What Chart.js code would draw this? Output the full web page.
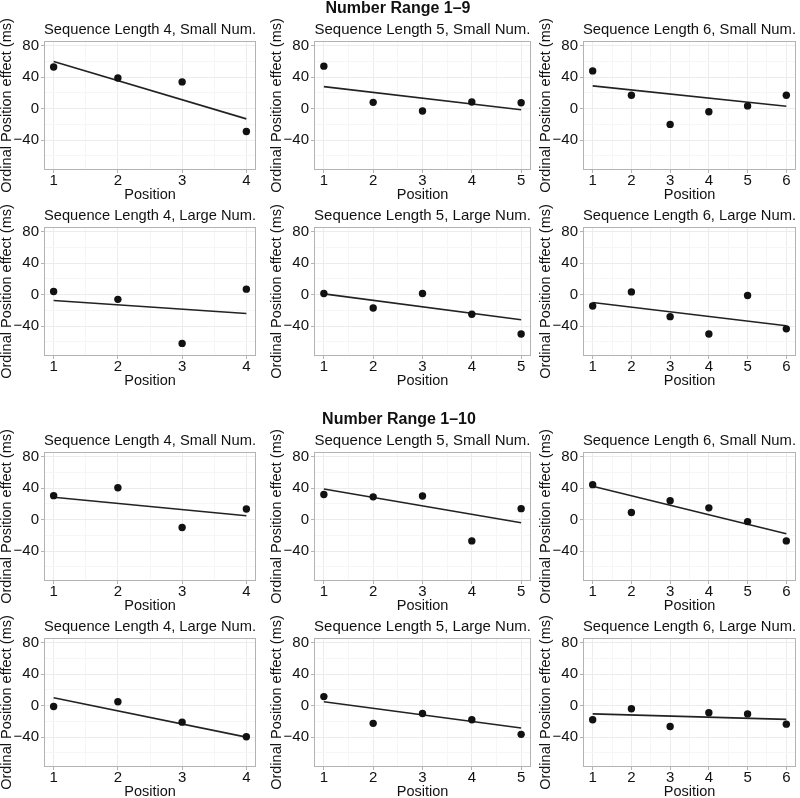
<!DOCTYPE html>
<html>
<head>
<meta charset="utf-8">
<script src="https://cdn.jsdelivr.net/npm/chart.js@4.4.0/dist/chart.umd.min.js"></script>
<style>
  html, body { margin: 0; padding: 0; background: #fff; overflow: hidden; }
  body { width: 800px; height: 798px; position: relative; font-family: "Liberation Sans", Arial, sans-serif; }
  .panel { position: absolute; }
  .section { position: absolute; width: 240px; text-align: center; font-weight: bold; font-size: 16px; line-height: 16px; color: #111; z-index: 2; }
</style>
</head>
<body>
<div class="section" style="left:278px; top:0px;">Number Range 1–9</div>
<div class="section" style="left:279px; top:411px;">Number Range 1–10</div>
<script>
// positions on the x axis
const pos4 = [1, 2, 3, 4];
const pos5 = [1, 2, 3, 4, 5];
const pos6 = [1, 2, 3, 4, 5, 6];

// Number Range 1–9 : ordinal position effect (ms)
const r9Small4 = [53, 39, 34, -29];
const r9Small5 = [54, 8, -3, 8.5, 7.5];
const r9Small6 = [48, 17, -20, -4, 3.5, 17];
const r9Large4 = [4, -6, -62, 7];
const r9Large5 = [1.5, -17, 1.5, -25, -50];
const r9Large6 = [-14.5, 3.5, -28, -50, -1, -43.5];

// Number Range 1–10
const r10Small4 = [30.5, 40.5, -10, 13.5];
const r10Small5 = [32, 29, 30, -27, 14];
const r10Small6 = [44.5, 9, 24, 15, -2.5, -27];
const r10Large4 = [-1, 5, -21, -39.5];
const r10Large5 = [11.5, -22.5, -10, -18, -36.5];
const r10Large6 = [-18, -4, -26.5, -9, -10.5, -23.5];

// fitted line: value at first and at last position
const fitR9Small4 = [60, -13];
const fitR9Small5 = [28, -1.5];
const fitR9Small6 = [29, 3];
const fitR9Large4 = [-7.5, -24];
const fitR9Large5 = [1, -32];
const fitR9Large6 = [-10, -39.5];
const fitR10Small4 = [28.5, 5];
const fitR10Small5 = [39, -4];
const fitR10Small6 = [42.5, -18];
const fitR10Large4 = [10, -40];
const fitR10Large5 = [5, -28.5];
const fitR10Large6 = [-10.5, -17.5];

// y axis
const yTicks = [-60, -40, -20, 0, 20, 40, 60, 80];
const yLabelled = [-40, 0, 40, 80];
const yRange = [-78, 86];

// panel table (row by row)
const panels = [
  { title: 'Sequence Length 4, Small Num.', x: pos4, y: r9Small4, fit: fitR9Small4 },
  { title: 'Sequence Length 5, Small Num.', x: pos5, y: r9Small5, fit: fitR9Small5 },
  { title: 'Sequence Length 6, Small Num.', x: pos6, y: r9Small6, fit: fitR9Small6 },
  { title: 'Sequence Length 4, Large Num.', x: pos4, y: r9Large4, fit: fitR9Large4 },
  { title: 'Sequence Length 5, Large Num.', x: pos5, y: r9Large5, fit: fitR9Large5 },
  { title: 'Sequence Length 6, Large Num.', x: pos6, y: r9Large6, fit: fitR9Large6 },
  { title: 'Sequence Length 4, Small Num.', x: pos4, y: r10Small4, fit: fitR10Small4 },
  { title: 'Sequence Length 5, Small Num.', x: pos5, y: r10Small5, fit: fitR10Small5 },
  { title: 'Sequence Length 6, Small Num.', x: pos6, y: r10Small6, fit: fitR10Small6 },
  { title: 'Sequence Length 4, Large Num.', x: pos4, y: r10Large4, fit: fitR10Large4 },
  { title: 'Sequence Length 5, Large Num.', x: pos5, y: r10Large5, fit: fitR10Large5 },
  { title: 'Sequence Length 6, Large Num.', x: pos6, y: r10Large6, fit: fitR10Large6 }
];

// layout
const colLeft = [0, 270, 539];
const colPlotRight = [258, 533, 798];
const rowPlotTop = [41, 227, 452, 638];
const padTop = 14, titleH = 20, plotH = 129, xAxisH = 32, yAxisW = 44, padRight = 2;

const FONT = '"Liberation Sans", Arial, sans-serif';
const TEXT = '#111';
const BORDER = '#b3b3b3';

const panelBorder = {
  id: 'panelBorder',
  beforeDatasetsDraw(chart) {
    const { ctx, chartArea: a } = chart;
    ctx.save();
    ctx.strokeStyle = BORDER;
    ctx.lineWidth = 1;
    ctx.strokeRect(Math.round(a.left) + 0.5, Math.round(a.top) + 0.5,
      Math.round(a.width) - 1, Math.round(a.height) - 1);
    ctx.restore();
  }
};

const minus = v => (v < 0 ? '\u2212' + Math.abs(v) : String(v));

panels.forEach((p, i) => {
  const row = Math.floor(i / 3), col = i % 3;
  const w = colPlotRight[col] - colLeft[col] + padRight;
  const h = padTop + titleH + plotH + xAxisH;

  const box = document.createElement('div');
  box.className = 'panel';
  box.style.left = colLeft[col] + 'px';
  box.style.top = (rowPlotTop[row] - titleH - padTop) + 'px';
  box.style.width = w + 'px';
  box.style.height = h + 'px';
  const cv = document.createElement('canvas');
  cv.width = w; cv.height = h;
  cv.style.width = w + 'px'; cv.style.height = h + 'px';
  box.appendChild(cv);
  document.body.appendChild(box);

  const n = p.x.length;
  const span = p.x[n - 1] - p.x[0];
  const xTicks = p.x.flatMap((v, k) => (k < n - 1 ? [v, v + 0.5] : [v]));

  new Chart(cv, {
    type: 'scatter',
    data: {
      datasets: [
        {
          data: p.x.map((x, k) => ({ x: x, y: p.y[k] })),
          backgroundColor: '#111',
          borderColor: '#111',
          borderWidth: 0,
          pointRadius: 3.7
        },
        {
          data: [{ x: p.x[0], y: p.fit[0] }, { x: p.x[n - 1], y: p.fit[1] }],
          showLine: true,
          borderColor: '#222',
          borderWidth: 1.6,
          pointRadius: 0
        }
      ]
    },
    options: {
      responsive: false,
      animation: false,
      events: [],
      layout: { padding: { left: 0, right: padRight, top: padTop, bottom: 0 } },
      plugins: {
        legend: { display: false },
        tooltip: { enabled: false },
        title: {
          display: true,
          text: p.title,
          fullSize: false,
          color: TEXT,
          font: { family: FONT, size: 15, weight: 'normal', lineHeight: 1.2 },
          padding: { top: 0, bottom: 2 }
        }
      },
      scales: {
        x: {
          type: 'linear',
          min: p.x[0] - 0.05 * span,
          max: p.x[n - 1] + 0.05 * span,
          afterBuildTicks: s => { s.ticks = xTicks.map(v => ({ value: v })); },
          afterFit: s => { s.height = xAxisH; },
          ticks: {
            autoSkip: false, maxRotation: 0, padding: 0, color: TEXT,
            font: { family: FONT, size: 15, lineHeight: 1 },
            callback: v => (Number.isInteger(v) ? String(v) : '')
          },
          grid: {
            color: c => (Number.isInteger(c.tick.value) ? '#ececec' : '#f6f6f6'),
            tickColor: c => (Number.isInteger(c.tick.value) ? BORDER : 'rgba(0,0,0,0)'),
            tickLength: 3
          },
          border: { display: false },
          title: {
            display: true, text: 'Position', color: TEXT,
            font: { family: FONT, size: 14.5, lineHeight: 1 },
            padding: { top: 0, bottom: 0 }
          }
        },
        y: {
          min: yRange[0],
          max: yRange[1],
          afterBuildTicks: s => { s.ticks = yTicks.map(v => ({ value: v })); },
          afterFit: s => { s.width = yAxisW; },
          ticks: {
            padding: 2, color: TEXT,
            font: { family: FONT, size: 15, lineHeight: 1 },
            callback: v => (yLabelled.includes(v) ? minus(v) : '')
          },
          grid: {
            color: c => (yLabelled.includes(c.tick.value) ? '#ececec' : '#f6f6f6'),
            tickColor: c => (yLabelled.includes(c.tick.value) ? BORDER : 'rgba(0,0,0,0)'),
            tickLength: 3
          },
          border: { display: false },
          title: {
            display: true, text: 'Ordinal Position effect (ms)', color: TEXT,
            font: { family: FONT, size: 14.5, lineHeight: 1 },
            padding: { top: 0, bottom: 0 }
          }
        }
      }
    },
    plugins: [panelBorder]
  });
});
</script>
</body>
</html>
